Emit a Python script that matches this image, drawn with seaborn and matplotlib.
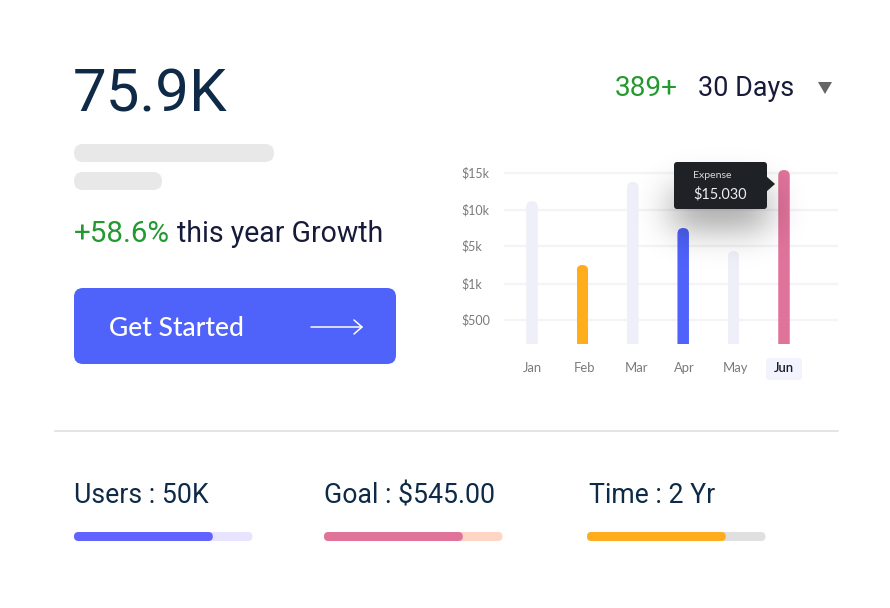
import math
import numpy as np
import pandas as pd
import matplotlib
matplotlib.use("Agg")
import matplotlib.pyplot as plt
import seaborn as sns
from matplotlib.patches import FancyBboxPatch, Polygon, Rectangle
from matplotlib.transforms import ScaledTranslation, IdentityTransform

months = ["Jan", "Feb", "Mar", "Apr", "May", "Jun"]
expense = [11200, 3000, 13800, 7500, 4450, 15400]
bar_colors = ["#eeeff8", "#ffad1a", "#eeeff8", "#4f62fa", "#eeeff8", "#e0739a"]
tick_values = [500, 1000, 5000, 10000, 15000]
tick_labels = ["$500", "$1k", "$5k", "$10k", "$15k"]
stat_labels = ["Users : 50K", "Goal : $545.00", "Time : 2 Yr"]
stat_fractions = [0.775, 0.775, 0.775]
stat_fill = ["#6262ff", "#e0739a", "#ffad1f"]
stat_track = ["#e8e4ff", "#ffd5c6", "#e0e0e0"]

W, H = 890, 608
sns.set_theme(style="white")
plt.rcParams["font.family"] = ["Roboto", "DejaVu Sans"]
px = 0.72  # px to pt at dpi 100
NAVY = "#0e2a47"
INK = "#171b3a"
GREEN = "#23992f"
BLUE = "#4f62fa"

fig = plt.figure(figsize=(W / 100, H / 100), dpi=100, facecolor="white")


def pixel_axes(z):
    a = fig.add_axes([0, 0, 1, 1], zorder=z)
    a.set_xlim(0, W)
    a.set_ylim(H, 0)
    a.axis("off")
    a.patch.set_alpha(0)
    return a


def rbox(a, x0, y0, x1, y1, r, color, **kw):
    a.add_patch(FancyBboxPatch((x0 + r, y0 + r), x1 - x0 - 2 * r, y1 - y0 - 2 * r,
                               boxstyle=f"round,pad={r},rounding_size={r}",
                               fc=color, ec="none", **kw))


bg = pixel_axes(0)
top = pixel_axes(2)

# Left panel
bg.text(73, 112, "75.9K", fontsize=60 * px, color=NAVY, va="baseline")
rbox(bg, 74, 144, 274, 162, 9, "#e8e8e8")
rbox(bg, 74, 172, 162, 190, 9, "#e8e8e8")
bg.text(74, 242, "+58.6%", fontsize=29.5 * px, color=GREEN, va="baseline")
bg.text(177, 242, "this year Growth", fontsize=28.5 * px, color=INK, va="baseline")
rbox(bg, 74, 288, 396, 364, 9, BLUE)
bg.text(109, 336, "Get Started", fontsize=26.5 * px, color="white", va="baseline",
        family=["Lato", "DejaVu Sans"], fontweight="medium")
bg.plot([311, 362], [327, 327], color="white", lw=1.1, solid_capstyle="round")
bg.plot([354, 362, 354], [320, 327, 334], color="white", lw=1.1, solid_capstyle="round")

# Header right
bg.text(615, 96, "389+", fontsize=28 * px, color=GREEN, va="baseline")
bg.text(698, 96, "30 Days", fontsize=27 * px, color=INK, va="baseline")
bg.add_patch(Polygon([(818, 82), (832, 82), (825, 94)], fc="#666666", ec="none"))

# Jun highlight
rbox(bg, 766, 358, 802, 380, 4, "#f3f3fd")

# Divider
bg.plot([55, 838], [431, 431], color="#e4e4e4", lw=1.4)

# Stats
stat_text_x = [74, 324, 589]
stat_bar_x = [74, 324, 587]
for lab, frac, c, t, tx, bx in zip(stat_labels, stat_fractions, stat_fill, stat_track,
                                   stat_text_x, stat_bar_x):
    bg.text(tx, 503, lab, fontsize=26.6 * px, color=NAVY, va="baseline")
    rbox(bg, bx, 532, bx + 178.5, 541, 4.5, t)
    rbox(bg, bx, 532, bx + 178.5 * frac + 0.5, 541, 4.5, c)

# Chart
x0, x1, yb, yt = 504, 838, 344, 150
ax = fig.add_axes([x0 / W, 1 - yb / H, (x1 - x0) / W, (yb - yt) / H], zorder=1)
ax.patch.set_alpha(0)
knots_v = [0, 500, 1000, 5000, 10000, 15000, 20000]
knots_p = [0, 24, 60, 98, 134, 171, 208]
ax.set_yscale("function", functions=(lambda v: np.interp(v, knots_v, knots_p),
                                     lambda p: np.interp(p, knots_p, knots_v)))
df = pd.DataFrame({"month": months, "expense": expense})
sns.barplot(data=df, x="month", y="expense", hue="month", order=months, hue_order=months,
            palette=bar_colors, dodge=False, legend=False, width=0.228, ax=ax, zorder=3,
            linewidth=0, saturation=1)
step = 50.4
ax.set_xlim(-(532 - x0) / step, (x1 - 532) / step)
ax.set_ylim(0, float(np.interp(yb - yt, knots_p, knots_v)))
ax.set_xlabel("")
ax.set_ylabel("")
for s in ax.spines.values():
    s.set_visible(False)
ax.set_yticks(tick_values)
ax.set_yticklabels(tick_labels)
ax.yaxis.set_minor_locator(matplotlib.ticker.NullLocator())
ax.grid(False)
for v in tick_values:
    ax.axhline(v, color="#f4f4f6", lw=1.6, zorder=1)
ax.tick_params(axis="y", length=0, pad=(x0 - 461) * px, labelsize=12.5 * px, labelcolor="#7b7b7b")
for l in ax.get_yticklabels():
    l.set_ha("left")
    l.set_family(["Lato", "DejaVu Sans"])
    l.set_transform(l.get_transform() + ScaledTranslation(0, 0.01, fig.dpi_scale_trans))
ax.tick_params(axis="x", length=0, pad=18 * px, labelsize=13 * px, labelcolor="#7b7b7b")
nudges = [0, 2, 4, 1, 2, 0]
for l, n, m in zip(ax.get_xticklabels(), nudges, months):
    l.set_family(["Lato", "DejaVu Sans"])
    l.set_transform(l.get_transform() + ScaledTranslation(n / 100, 0, fig.dpi_scale_trans))
    if m == "Jun":
        l.set_color("#1a1a2e")
        l.set_fontweight("semibold")

# Rounded tops on the bars
for p in ax.patches:
    if not isinstance(p, Rectangle) or p.get_height() <= 0:
        continue
    (ax0, ay0), (ax1, ay1) = ax.transData.transform(
        [(p.get_x(), 0), (p.get_x() + p.get_width(), p.get_height())])
    r = (ax1 - ax0) / 2
    clip = FancyBboxPatch((ax0 + r, ay0 - 30), 0, ay1 - ay0 + 30 - r,
                          boxstyle=f"round,pad={r},rounding_size={r}",
                          transform=IdentityTransform())
    p.set_clip_path(clip)

# Tooltip shadow, above the bars
erf = np.vectorize(math.erf)
sx0, sx1, sy0, sy1, sig = 672, 768, 190, 226, 18
xs = np.arange(610, 830)
ys = np.arange(140, 300)
gx = 0.5 * (erf((xs - sx0) / (sig * 2**0.5)) - erf((xs - sx1) / (sig * 2**0.5)))
gy = 0.5 * (erf((ys - sy0) / (sig * 2**0.5)) - erf((ys - sy1) / (sig * 2**0.5)))
rgba = np.zeros((len(ys), len(xs), 4))
rgba[..., 3] = 0.42 * np.outer(gy, gx)
top.imshow(rgba, extent=(610, 830, 300, 140), aspect="auto", interpolation="bilinear", zorder=1)
top.set_xlim(0, W)
top.set_ylim(H, 0)

rbox(top, 674, 162, 767, 209, 3, "#1e2126", zorder=2)
top.add_patch(Polygon([(766, 176), (775, 184), (766, 192)], fc="#1e2126", ec="none", zorder=2))
top.text(693, 178, "Expense", fontsize=10.5 * px, color="#d8d8d8", va="baseline", zorder=3,
         family=["Lato", "DejaVu Sans"])
top.text(693, 198, "$15.030", fontsize=14.5 * px, color="#eeeeee", va="baseline", zorder=3,
         family=["Lato", "DejaVu Sans"])

fig.savefig("out.png", dpi=100, facecolor="white")
